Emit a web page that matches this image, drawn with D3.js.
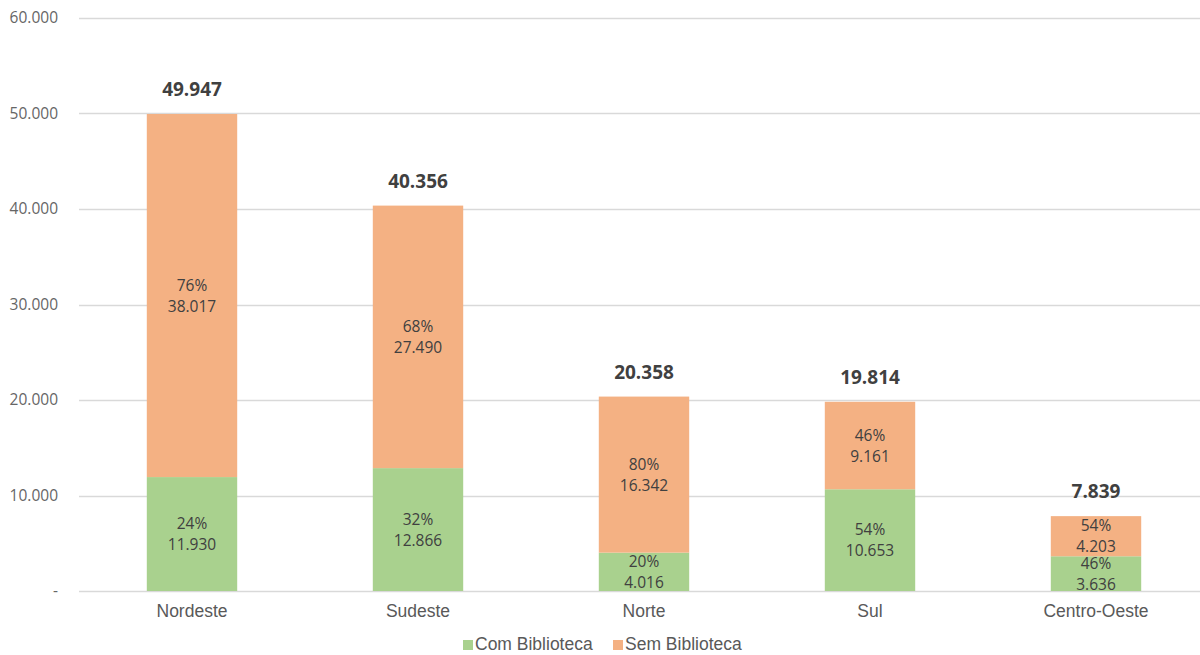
<!DOCTYPE html>
<html>
<head>
<meta charset="utf-8">
<script src="https://cdn.jsdelivr.net/npm/d3@7"></script>
<style>
  body { margin: 0; background: #fff; }
  svg { display: block; }
</style>
</head>
<body>
<svg id="chart" width="1200" height="655"></svg>
<script>
// regions and counts (escolas)
var regioes = ['Nordeste', 'Sudeste', 'Norte', 'Sul', 'Centro-Oeste'];
var comBiblioteca = [11930, 12866, 4016, 10653, 3636];
var semBiblioteca = [38017, 27490, 16342, 9161, 4203];
var totais = [49947, 40356, 20358, 19814, 7839];
var pctCom = ['24%', '32%', '20%', '54%', '46%'];
var pctSem = ['76%', '68%', '80%', '46%', '54%'];
var yTicks = [0, 10000, 20000, 30000, 40000, 50000, 60000];

var series = [
  { key: 'com', nome: 'Com Biblioteca', cor: '#a9d18e', valores: comBiblioteca, pct: pctCom },
  { key: 'sem', nome: 'Sem Biblioteca', cor: '#f4b183', valores: semBiblioteca, pct: pctSem }
];

var svg = d3.select('#chart');
var margin = { top: 18, left: 79, bottom: 64 };
var height = 655;

var fmt = function (v) {
  return v === 0 ? '-' : d3.format(',')(v).replace(/,/g, '.');
};

var x = d3.scaleBand()
  .domain(regioes)
  .range([margin.left, 1209])
  .paddingInner(0.6)
  .paddingOuter(0.3);

var y = d3.scaleLinear()
  .domain([0, 60000])
  .range([height - margin.bottom, margin.top]);

// gridlines
svg.append('g')
  .selectAll('line')
  .data(yTicks)
  .enter().append('line')
  .attr('x1', margin.left)
  .attr('x2', 1209)
  .attr('y1', function (d) { return Math.round(y(d)) + 0.5; })
  .attr('y2', function (d) { return Math.round(y(d)) + 0.5; })
  .attr('stroke', '#d9d9d9')
  .attr('stroke-width', 1.3);

// y axis labels
var yAxis = d3.axisLeft(y).tickValues(yTicks).tickSize(0).tickPadding(0).tickFormat(fmt);
svg.append('g')
  .attr('transform', 'translate(58,0)')
  .call(yAxis)
  .call(function (g) { g.select('.domain').remove(); })
  .selectAll('text')
  .attr('fill', '#666666')
  .style('font-family', '"Open Sans", sans-serif')
  .style('font-size', '15.5px');

// stacked bars
var stack = regioes.map(function (r, i) {
  var base = 0;
  return series.map(function (s) {
    var seg = { regiao: r, y0: base, y1: base + s.valores[i], valor: s.valores[i], pct: s.pct[i], cor: s.cor };
    base += s.valores[i];
    return seg;
  });
});

var grupos = svg.append('g').selectAll('g')
  .data(stack)
  .enter().append('g');

grupos.selectAll('rect')
  .data(function (d) { return d; })
  .enter().append('rect')
  .attr('x', function (d) { return x(d.regiao); })
  .attr('width', x.bandwidth())
  .attr('y', function (d) { return y(d.y1); })
  .attr('height', function (d) { return y(d.y0) - y(d.y1); })
  .attr('fill', function (d) { return d.cor; });

// segment labels
var seg = grupos.selectAll('text.seg')
  .data(function (d) { return d; })
  .enter().append('text')
  .attr('class', 'seg')
  .attr('text-anchor', 'middle')
  .attr('fill', '#404040')
  .style('font-family', '"Open Sans", sans-serif')
  .style('font-size', '15.5px');

seg.append('tspan')
  .attr('x', function (d) { return x(d.regiao) + x.bandwidth() / 2; })
  .attr('y', function (d) { return (y(d.y0) + y(d.y1)) / 2 - 5; })
  .text(function (d) { return d.pct; });

seg.append('tspan')
  .attr('x', function (d) { return x(d.regiao) + x.bandwidth() / 2; })
  .attr('y', function (d) { return (y(d.y0) + y(d.y1)) / 2 + 16; })
  .text(function (d) { return fmt(d.valor); });

// totals
svg.append('g').selectAll('text')
  .data(regioes)
  .enter().append('text')
  .attr('x', function (d) { return x(d) + x.bandwidth() / 2; })
  .attr('y', function (d, i) { return y(totais[i]) - 18; })
  .attr('text-anchor', 'middle')
  .attr('fill', '#404040')
  .style('font-family', '"Open Sans", sans-serif')
  .style('font-weight', 'bold')
  .style('font-size', '19px')
  .text(function (d, i) { return fmt(totais[i]); });

// x axis labels
var xAxis = d3.axisBottom(x).tickSize(0).tickPadding(0);
svg.append('g')
  .attr('transform', 'translate(0,' + (y(0) + 26) + ')')
  .call(xAxis)
  .call(function (g) { g.select('.domain').remove(); })
  .selectAll('text')
  .attr('dy', 0)
  .attr('fill', '#595959')
  .style('font-family', '"Liberation Sans", Arial, sans-serif')
  .style('font-size', '17.5px');

// legend
var legenda = svg.append('g');
var legX = [463, 613];
var item = legenda.selectAll('g')
  .data(series)
  .enter().append('g')
  .attr('transform', function (d, i) { return 'translate(' + legX[i] + ',650)'; });

item.append('rect')
  .attr('x', 0)
  .attr('y', -10)
  .attr('width', 10)
  .attr('height', 10)
  .attr('fill', function (d) { return d.cor; });

item.append('text')
  .attr('x', 12)
  .attr('y', 0)
  .attr('fill', '#595959')
  .style('font-family', '"Liberation Sans", Arial, sans-serif')
  .style('font-size', '17.5px')
  .text(function (d) { return d.nome; });
</script>
</body>
</html>
